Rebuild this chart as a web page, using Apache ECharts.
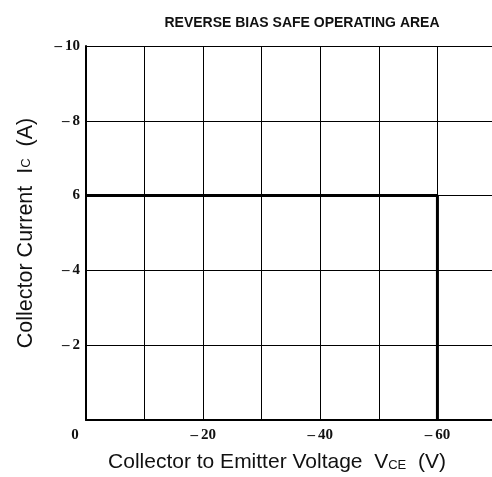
<!DOCTYPE html>
<html><head><meta charset="utf-8">
<script src="https://cdn.jsdelivr.net/npm/echarts@6/dist/echarts.min.js"></script>
<style>html,body{margin:0;padding:0;background:#fff}#c{width:492px;height:477px}</style>
</head><body><div id="c"></div>
<script>
var xTicks = [0, -20, -40, -60];
var yTickLabels = {'-10':'\u2013\u200910','-8':'\u2013\u20098','-6':'6','-4':'\u2013\u20094','-2':'\u2013\u20092','0':''};
var soaVce = [0, -60, -60];
var soaIc = [-6, -6, 0];
var title = 'REVERSE BIAS SAFE OPERATING AREA';

var chart = echarts.init(document.getElementById('c'));
var soaData = soaVce.map(function(v,i){return [v, soaIc[i]];});
chart.setOption({
  animation: false,
  backgroundColor: '#fff',
  title: {text: title, left: 297, top: 11, textAlign: 'center',
    textStyle: {fontFamily: 'Liberation Sans', fontSize: 14, fontWeight: 'bold', color: '#111'}},
  grid: {left: 86, right: -4, top: 46, bottom: 57, outerBoundsMode: 'none', containLabel: false},
  xAxis: {
    type: 'value', min: -70, max: 0, interval: 10, inverse: true,
    name: 'Collector to Emitter Voltage  V{s|CE}  (V)',
    nameLocation: 'middle', nameGap: 32,
    nameTextStyle: {fontFamily: 'Liberation Sans', fontSize: 21, color: '#111', padding: [0, 28, 0, 0],
      rich: {s: {fontFamily: 'Liberation Sans', fontSize: 13, color: '#111', padding: [5,0,0,0]}}},
    axisLine: {show: true, lineStyle: {color: '#000', width: 2}},
    axisTick: {show: false},
    splitLine: {show: true, lineStyle: {color: '#000', width: 1}},
    axisLabel: {margin: 8, color: '#111', fontFamily: 'Liberation Serif', fontWeight: 'bold', fontSize: 15,
      showMaxLabel: true, showMinLabel: true,
      formatter: function(v){
        if (v === 0) return '{z|0}';
        if (xTicks.indexOf(v) >= 0) return '\u2013\u2009' + Math.abs(v);
        return '';
      },
      rich: {z: {fontFamily: 'Liberation Serif', fontWeight: 'bold', fontSize: 15, color: '#111', padding: [0, 22, 0, 0]}}
    }
  },
  yAxis: {
    type: 'value', min: -10, max: 0, interval: 2, inverse: true,
    name: 'Collector Current  I{s|C}  (A)',
    nameLocation: 'middle', nameGap: 49, nameRotate: 90,
    nameTextStyle: {fontFamily: 'Liberation Sans', fontSize: 21.5, color: '#111',
      rich: {s: {fontFamily: 'Liberation Sans', fontSize: 13, color: '#111'}}},
    axisLine: {show: true, lineStyle: {color: '#000', width: 2}},
    axisTick: {show: false},
    splitLine: {show: true, lineStyle: {color: '#000', width: 1}},
    axisLabel: {margin: 6, color: '#111', fontFamily: 'Liberation Serif', fontWeight: 'bold', fontSize: 15,
      formatter: function(v){ return yTickLabels[String(v)]; }}
  },
  series: [{
    type: 'line', data: soaData, symbol: 'none',
    lineStyle: {color: '#000', width: 3}
  }]
});
</script></body></html>
